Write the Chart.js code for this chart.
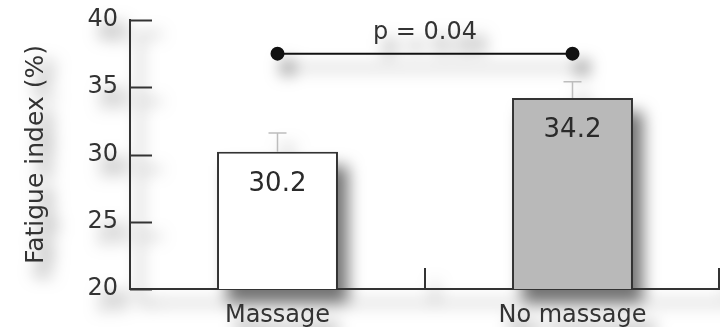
<!DOCTYPE html>
<html>
<head>
<meta charset="utf-8">
<title>Fatigue index</title>
<script src="https://cdn.jsdelivr.net/npm/chart.js@4.4.0/dist/chart.umd.min.js"></script>
<style>
  html, body { margin: 0; padding: 0; background: #fff; overflow: hidden; }
  #chart { display: block; filter: drop-shadow(10px 14px 8px rgba(0, 0, 0, 0.55)); }
</style>
</head>
<body>
<canvas id="chart" width="720" height="327"></canvas>
<script>
// data
const groups = ['Massage', 'No massage'];
const fatigue = [30.2, 34.2];
const errorTop = [31.6, 35.4];
const barColors = ['#ffffff', '#b9b9b9'];
const bracket = [37.5, 37.5];
const pLabel = 'p = 0.04';
const yTicks = [20, 25, 30, 35, 40];

const FONT = '"DejaVu Sans", sans-serif';
const INK = '#333';

// short ticks pointing into the plot, error bars, value labels, p text
const extras = {
    id: 'extras',
    afterDatasetsDraw(chart) {
        const ctx = chart.ctx;
        const y = chart.scales.y;
        const area = chart.chartArea;

        ctx.save();
        ctx.strokeStyle = INK;
        ctx.lineWidth = 2;

        // y ticks, inside
        yTicks.forEach(v => {
            let py = Math.round(y.getPixelForValue(v)) + 0.5;
            ctx.beginPath();
            ctx.moveTo(area.left, py);
            ctx.lineTo(area.left + 22, py);
            ctx.stroke();
        });

        // x ticks at category boundaries
        let step = (area.right - area.left) / groups.length;
        for (let i = 1; i <= groups.length; i++) {
            let px = Math.min(Math.round(area.left + step * i), area.right - 1);
            ctx.beginPath();
            ctx.moveTo(px, area.bottom);
            ctx.lineTo(px, area.bottom - 21);
            ctx.stroke();
        }

        // error bars (upper half only)
        let bars = chart.getDatasetMeta(0).data;
        ctx.strokeStyle = '#bdbdbd';
        ctx.lineWidth = 1.5;
        bars.forEach((bar, i) => {
            let top = y.getPixelForValue(errorTop[i]);
            ctx.beginPath();
            ctx.moveTo(bar.x, bar.y);
            ctx.lineTo(bar.x, top);
            ctx.moveTo(bar.x - 9, top);
            ctx.lineTo(bar.x + 9, top);
            ctx.stroke();
        });

        // value labels inside bars
        ctx.fillStyle = '#2a2a2a';
        ctx.font = '26px ' + FONT;
        ctx.textAlign = 'center';
        ctx.textBaseline = 'middle';
        bars.forEach((bar, i) => {
            ctx.fillText(fatigue[i].toFixed(1), bar.x, bar.y + 32);
        });

        // p value above the bracket
        let pts = chart.getDatasetMeta(1).data;
        ctx.fillStyle = INK;
        ctx.font = '24px ' + FONT;
        ctx.fillText(pLabel, (pts[0].x + pts[1].x) / 2, pts[0].y - 21);
        ctx.restore();
    }
};

new Chart(document.getElementById('chart'), {
    data: {
        labels: groups,
        datasets: [{
            type: 'bar',
            data: fatigue,
            backgroundColor: barColors,
            borderColor: INK,
            borderWidth: 2,
            categoryPercentage: 1,
            barPercentage: 0.41
        }, {
            type: 'line',
            data: bracket,
            borderColor: '#111',
            borderWidth: 2,
            pointRadius: 6,
            pointBackgroundColor: '#111',
            pointBorderColor: '#111'
        }]
    },
    plugins: [extras],
    options: {
        responsive: false,
        animation: false,
        events: [],
        layout: { autoPadding: false, padding: { top: 20, right: 0, left: 0, bottom: 0 } },
        plugins: {
            legend: { display: false },
            tooltip: { enabled: false }
        },
        scales: {
            x: {
                offset: true,
                grid: { display: false },
                border: { color: INK, width: 2 },
                ticks: { color: INK, padding: 4, font: { family: FONT, size: 24 } },
                afterFit: s => { s.height = 38; s.paddingLeft = 0; s.paddingRight = 0; }
            },
            y: {
                min: 20,
                max: 40,
                afterBuildTicks: s => { s.ticks = yTicks.map(v => ({ value: v })); },
                grid: { drawOnChartArea: false, drawTicks: false },
                border: { color: INK, width: 2 },
                ticks: { color: INK, padding: 12, font: { family: FONT, size: 24 } },
                title: {
                    display: true,
                    text: 'Fatigue index (%)',
                    color: INK,
                    padding: { top: 21 },
                    font: { family: FONT, size: 25 }
                },
                afterFit: s => { s.width = 130; s.paddingTop = 0; s.paddingBottom = 0; }
            }
        }
    }
});
</script>
</body>
</html>
